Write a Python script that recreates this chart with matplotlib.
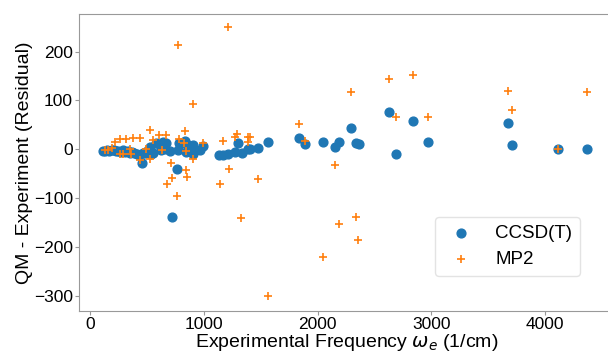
import matplotlib
matplotlib.use('Agg')
import matplotlib.pyplot as plt

# CCSD(T) residuals vs experimental frequency (1/cm)
ccsd_x = [114, 130, 150, 170, 190, 210, 230, 250, 270, 290,
          310, 330, 350, 370, 390, 410, 430, 457, 480, 500,
          525, 540, 554, 584, 613, 628, 642, 657, 665, 701,
          724, 768, 774, 470, 780, 804, 833, 842, 862, 906,
          906, 965, 989, 1135, 1170, 1214, 1273, 1302, 1332, 1390,
          1405, 1478, 1566, 1839, 1889, 2050, 2153, 2191, 2291, 2338,
          2364, 2628, 2690, 2834, 2969, 3670, 3711, 4110, 4369]
ccsd_y = [-3, -3, -2, -3, -1, -2, -4, -3, -5, -2,
          -6, -4, -7, -5, -8, -10, -12, -29, -8, -3,
          5, -10, -7, 12, 8, -2, 15, 1, 12, -3,
          -139, -41, -2, -8, 12, 12, 18, -5, 8, 8,
          -9, -2, 6, -12, -11, -9, -5, 12, -8, 1,
          1, 3, 15, 23, 10, 14, 4, 14, 44, 12,
          10, 76, -9, 57, 14, 54, 8, 0, 0]

# MP2 residuals
mp2_x = [129, 160, 190, 217, 261, 267, 290, 320, 349, 363,
         378, 437, 437, 495, 525, 531, 554, 607, 636, 665,
         677, 715, 724, 768, 774, 783, 827, 833, 842, 842,
         848, 906, 906, 989, 1141, 1165, 1209, 1223, 1273, 1293,
         1327, 1390, 1390, 1405, 1478, 1566, 1839, 1889, 2050, 2153,
         2188, 2291, 2338, 2356, 2628, 2690, 2834, 2969, 3670, 3711,
         4110, 4369]
mp2_y = [-2, -2, 2, 15, -10, 22, -10, 22, 1, -10,
         23, 23, -22, 1, 39, -19, 20, 29, -2, 30,
         -70, -28, -58, -96, 214, 22, 12, 37, -4, -43,
         -56, -19, 92, 12, -71, 16, 250, -41, 25, 32,
         -141, 26, 15, 25, -60, -301, 52, 17, -220, -33,
         -153, 117, -139, -186, 143, 66, 152, 66, 120, 80,
         0, 117]

plt.rcParams['font.family'] = ['Liberation Sans', 'DejaVu Sans']
plt.rcParams['font.size'] = 14

fig = plt.figure(figsize=(6.08, 3.52), dpi=100)
# right edge of the axes runs past the canvas, as in the reference
ax = fig.add_axes([79.3 / 608, 41 / 352, 535.7 / 608, 297 / 352])

ax.scatter(ccsd_x, ccsd_y, s=40, color='#1f77b4', marker='o', label='CCSD(T)')
ax.scatter(mp2_x, mp2_y, s=40, color='#ff7f0e', marker='+', linewidths=1.2, label='MP2')

ax.set_xlim(-94, 4613)
ax.set_ylim(-331, 277)
ax.set_xticks([0, 1000, 2000, 3000, 4000])
ax.set_yticks([-300, -200, -100, 0, 100, 200])
ax.set_xlabel(r'Experimental Frequency $\omega_e$ (1/cm)', labelpad=0, fontsize=14)
ax.set_ylabel('QM - Experiment (Residual)', labelpad=1, fontsize=14)

for sp in ax.spines.values():
    sp.set_color('#999999')
ax.tick_params(colors='#999999', labelcolor='black', length=3, pad=1.5, labelsize=12.5)

ax.legend(loc='upper left', bbox_to_anchor=(0.664, 0.3165), borderaxespad=0,
          fontsize=13.5, edgecolor='#dddddd')

fig.savefig('out.png', dpi=100)
